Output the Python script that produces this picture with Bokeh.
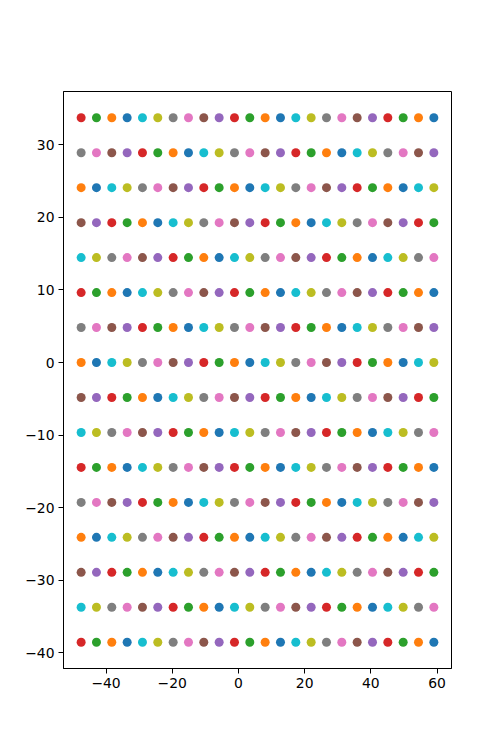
from bokeh.plotting import figure
from bokeh.models import Range1d, FixedTicker, ColumnDataSource
from bokeh.embed import file_html
from bokeh.resources import INLINE

# Column positions (x) and row positions (y)
x_vals = [-47.53, -42.90, -38.27, -33.63, -29.00, -24.37, -19.73, -15.10,
          -10.47, -5.83, -1.20, 3.43, 8.07, 12.70, 17.33, 21.97,
          26.60, 31.23, 35.87, 40.50, 45.13, 49.77, 54.40, 59.04]
y_vals = [-38.56, -33.74, -28.92, -24.10, -19.28, -14.46, -9.64, -4.82,
          0.0, 4.82, 9.64, 14.46, 19.28, 24.10, 28.92, 33.74]

# Colour cycle as observed (left to right, continuing row to row from the bottom)
color_cycle = ["#d62728", "#2ca02c", "#ff7f0e", "#1f77b4", "#17becf",
               "#bcbd22", "#7f7f7f", "#e377c2", "#8c564b", "#9467bd"]

xs, ys, cs = [], [], []
n = 0
for yv in y_vals:
    for xv in x_vals:
        xs.append(xv)
        ys.append(yv)
        cs.append(color_cycle[n % len(color_cycle)])
        n += 1

src = ColumnDataSource(dict(x=xs, y=ys, c=cs))

x_ticks = [-40, -20, 0, 20, 40, 60]
y_ticks = [-40, -30, -20, -10, 0, 10, 20, 30]

p = figure(width=500, height=750, output_backend="svg", toolbar_location=None,
           x_range=Range1d(-52.86, 64.37), y_range=Range1d(-42.18, 37.36),
           min_border_left=63, min_border_right=49, min_border_top=91,
           min_border_bottom=82)

p.scatter("x", "y", source=src, size=9, fill_color="c", line_color=None)

p.grid.visible = False
p.background_fill_color = "white"
p.border_fill_color = "white"
p.outline_line_color = "black"
p.outline_line_width = 1
p.outline_line_alpha = 1

def minus(v):
    return ("\u2212" + str(abs(v))) if v < 0 else str(v)

p.xaxis.ticker = FixedTicker(ticks=x_ticks)
p.yaxis.ticker = FixedTicker(ticks=y_ticks)
p.xaxis.major_label_overrides = {v: minus(v) for v in x_ticks}
p.yaxis.major_label_overrides = {v: minus(v) for v in y_ticks}

for ax in (p.xaxis, p.yaxis):
    ax.minor_tick_line_color = None
    ax.major_tick_in = 0
    ax.major_tick_out = 5
    ax.major_tick_line_color = "black"
    ax.axis_line_color = "black"
    ax.major_label_text_font = "DejaVu Sans"
    ax.major_label_text_font_size = "13.9px"
    ax.major_label_text_color = "black"
    ax.major_label_standoff = 4

open("out.html", "w").write(file_html(p, INLINE))
